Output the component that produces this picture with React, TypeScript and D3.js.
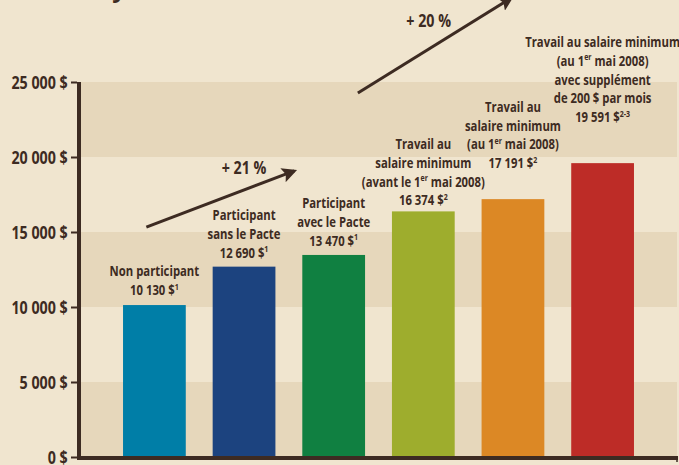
import React, { useEffect, useRef } from 'react';
import * as d3 from 'd3';

const categories = [
  'Non participant',
  'Participant sans le Pacte',
  'Participant avec le Pacte',
  'Salaire minimum avant 2008',
  'Salaire minimum 2008',
  'Salaire minimum 2008 avec supplément',
];
const values = [10130, 12690, 13470, 16374, 17191, 19591];
const notes = ['1', '1', '1', '2', '2', '2-3'];
const barColors = ['#007ea7', '#1c437f', '#108041', '#9ead2d', '#dc8825', '#bd2c27'];
const labelLines = [
  ['Non participant'],
  ['Participant', 'sans le Pacte'],
  ['Participant', 'avec le Pacte'],
  ['Travail au', 'salaire minimum', '(avant le 1^{er} mai 2008)'],
  ['Travail au', 'salaire minimum', '(au 1^{er} mai 2008)'],
  ['Travail au salaire minimum', '(au 1^{er} mai 2008)', 'avec supplément', 'de 200 $ par mois'],
];
const tickValues = [0, 5000, 10000, 15000, 20000, 25000];
// gap between the last label line and the top of its bar
const labelGap = [10, 9, 9, 6, 31, 41];
// growth annotations, x in bar-index units, y in dollars
const arrows = [
  { text: '+ 21 %', from: [-0.09, 15330], to: [1.56, 19070], at: [1.0, 18870] },
  { text: '+ 20 %', from: [2.27, 24270], to: [3.98, 30600], at: [3.06, 28670] },
];

const W = 679;
const H = 465;
const ink = '#3d2b22';
const font = '"Open Sans", "Liberation Sans", sans-serif';
const weight = 700;

const fmt = (v: number) => d3.format(',')(v).replace(/,/g, ' ');

function addRich(sel: any, str: string, size: number) {
  const parts = str.split(/\^\{([^}]*)\}/);
  let pending = 0;
  parts.forEach((p, i) => {
    if (!p) return;
    if (i % 2 === 1) {
      sel.append('tspan').attr('dy', -size * 0.38 + pending).attr('font-size', size * 0.62).text(p);
      pending = size * 0.38;
    } else {
      sel.append('tspan').attr('dy', pending).text(p);
      pending = 0;
    }
  });
}

export default function App() {
  const ref = useRef<SVGSVGElement>(null);

  useEffect(() => {
    const svg = d3.select(ref.current);
    svg.selectAll('*').remove();

    const y = d3.scaleLinear().domain([0, 25000]).range([457, 82]);
    const x = d3.scaleBand().domain(categories).range([80, 677]).paddingInner(0.3).paddingOuter(0.48);
    const step = x.step();
    const bw = x.bandwidth();
    const cx = (i: number) => (x(categories[0]) as number) + bw / 2 + i * step;

    const label = (px: number, py: number, size: number, sx: number) =>
      svg
        .append('text')
        .attr('transform', `translate(${px},${py}) scale(${sx},1)`)
        .attr('text-anchor', 'middle')
        .attr('fill', ink)
        .attr('font-family', font)
        .attr('font-weight', weight)
        .attr('font-size', size);

    svg.append('rect').attr('width', W).attr('height', H).attr('fill', '#f0e5cf');

    // alternating bands
    svg
      .append('g')
      .selectAll('rect')
      .data([0, 10000, 20000])
      .join('rect')
      .attr('x', 81)
      .attr('width', 596)
      .attr('y', (d) => y(d + 5000))
      .attr('height', (d) => y(d) - y(d + 5000))
      .attr('fill', '#e6d7bb');

    // cut-off title above the frame
    label(119, -3, 24, 1).text('y');

    svg
      .append('g')
      .selectAll('rect')
      .data(values)
      .join('rect')
      .attr('x', (d, i) => x(categories[i]) as number)
      .attr('y', (d) => y(d))
      .attr('width', bw)
      .attr('height', (d) => y(0) - y(d))
      .attr('fill', (d, i) => barColors[i]);

    // y axis
    const yAxis = d3
      .axisLeft(y)
      .tickValues(tickValues)
      .tickSize(6)
      .tickSizeOuter(0)
      .tickPadding(5)
      .tickFormat((d: any) => fmt(d) + ' $');
    const ga = svg.append('g').attr('transform', 'translate(77,0)').call(yAxis as any);
    ga.select('.domain').remove();
    ga.selectAll('line').attr('stroke', ink).attr('stroke-width', 2);
    ga.selectAll('text')
      .attr('fill', ink)
      .attr('font-family', font)
      .attr('font-weight', weight)
      .attr('font-size', 17)
      .attr('dy', '0.36em')
      .attr('transform', 'scale(0.84,1)');
    svg.append('line').attr('x1', 79).attr('x2', 79).attr('y1', 82).attr('y2', 460).attr('stroke', ink).attr('stroke-width', 4);
    svg.append('line').attr('x1', 77).attr('x2', 678).attr('y1', 458).attr('y2', 458).attr('stroke', ink).attr('stroke-width', 4);
    svg.append('line').attr('x1', 677).attr('x2', 677).attr('y1', 456).attr('y2', 462).attr('stroke', ink).attr('stroke-width', 1.5);

    // bar labels
    const lh = 18.8;
    values.forEach((v, i) => {
      const lines = [...labelLines[i], fmt(v) + ' $^{' + notes[i] + '}'];
      const base = y(v) - labelGap[i];
      lines.forEach((ln, k) => {
        const t = label(cx(i), base - (lines.length - 1 - k) * lh, 14.5, 0.78);
        addRich(t, ln, 14.5);
      });
    });

    // arrows
    svg
      .append('defs')
      .append('marker')
      .attr('id', 'head')
      .attr('markerUnits', 'userSpaceOnUse')
      .attr('viewBox', '0 0 10 10')
      .attr('refX', 8)
      .attr('refY', 5)
      .attr('markerWidth', 15)
      .attr('markerHeight', 15)
      .attr('orient', 'auto')
      .append('path')
      .attr('d', 'M0,0 L10,5 L0,10 L2,5 Z')
      .attr('fill', ink);

    arrows.forEach((a) => {
      svg
        .append('line')
        .attr('x1', cx(a.from[0]))
        .attr('y1', y(a.from[1]))
        .attr('x2', cx(a.to[0]))
        .attr('y2', y(a.to[1]))
        .attr('stroke', ink)
        .attr('stroke-width', 3)
        .attr('marker-end', 'url(#head)');
      label(cx(a.at[0]), y(a.at[1]), 17, 0.84).text(a.text);
    });
  }, []);

  return (
    <svg
      ref={ref}
      width={W}
      height={H}
      style={{ position: 'absolute', left: 0, top: 0, display: 'block' }}
    />
  );
}
